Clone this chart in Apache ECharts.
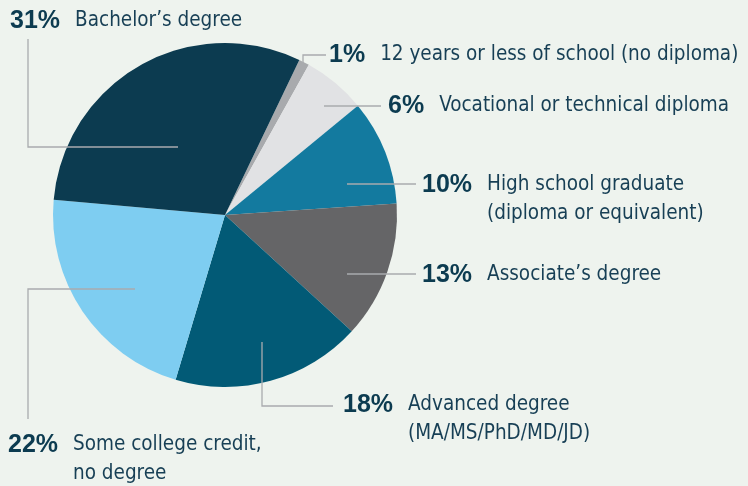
<!DOCTYPE html>
<html>
<head>
<meta charset="utf-8">
<script src="https://cdn.jsdelivr.net/npm/echarts@6/dist/echarts.min.js"></script>
<style>
  html, body { margin: 0; padding: 0; background: #eef3ee; }
  #chart { width: 748px; height: 486px; }
</style>
</head>
<body>
<div id="chart"></div>
<script>
// education levels, clockwise from the top
var categories = [
  '12 years or less of school (no diploma)',
  'Vocational or technical diploma',
  'High school graduate\n(diploma or equivalent)',
  'Associate’s degree',
  'Advanced degree\n(MA/MS/PhD/MD/JD)',
  'Some college credit,\nno degree',
  'Bachelor’s degree'
];
var shares = [1, 6, 10, 13, 18, 22, 31];
var colors = ['#a8aaad', '#e1e2e4', '#137a9f', '#656567', '#025a76', '#7ecdf1', '#0c3b50'];

// where each label sits (left x, middle of first line) and its leader line
var labelSpots = [
  [329, 55], [388, 106], [422, 185], [422, 275], [343, 405], [8, 445], [10, 21]
];
var leaders = [
  [[303, 63], [303, 55], [326, 55]],
  [[324, 106], [381, 106]],
  [[347, 184], [416, 184]],
  [[347, 274], [416, 274]],
  [[262, 342], [262, 406], [333, 406]],
  [[135, 289], [28, 289], [28, 419]],
  [[178, 147], [28, 147], [28, 39]]
];
var lineH = 29;

var textFont = "'DejaVu Sans Condensed', 'Liberation Sans Narrow', sans-serif";

var pieData = [];
for (var i = 0; i < shares.length; i++) {
  pieData.push({ name: categories[i], value: shares[i], itemStyle: { color: colors[i] } });
}

// leader lines go on top of the slices
var leaderLines = leaders.map(function (pts) {
  return {
    type: 'polyline',
    z: 100,
    silent: true,
    shape: { points: pts },
    style: { stroke: '#a9abae', lineWidth: 1.3, fill: null }
  };
});

var myChart = echarts.init(document.getElementById('chart'));
myChart.setOption({
  backgroundColor: '#eef3ee',
  animation: false,
  graphic: leaderLines,
  series: [{
    type: 'pie',
    center: [225, 215],
    radius: 172,
    startAngle: 64.4,
    clockwise: true,
    avoidLabelOverlap: false,
    data: pieData,
    label: {
      show: true,
      position: 'outside',
      formatter: function (p) {
        var lines = p.name.split('\n');
        var s = '{p|' + p.value + '%}{t|' + lines[0] + '}';
        for (var k = 1; k < lines.length; k++) {
          s += '\n{s| }{t|' + lines[k] + '}';
        }
        return s;
      },
      rich: {
        p: { fontFamily: "'Liberation Sans', Arial, sans-serif", fontWeight: 'bold', fontSize: 25,
             color: '#0c3b50', padding: [0, 15, 0, 0], lineHeight: lineH },
        t: { fontFamily: textFont, fontSize: 20.5, color: '#173f55', lineHeight: lineH },
        s: { width: 65, lineHeight: lineH }
      }
    },
    labelLine: { show: false },
    labelLayout: function (params) {
      var spot = labelSpots[params.dataIndex];
      return {
        x: spot[0],
        y: spot[1] - lineH / 2,
        align: 'left',
        verticalAlign: 'top'
      };
    }
  }]
});
</script>
</body>
</html>
